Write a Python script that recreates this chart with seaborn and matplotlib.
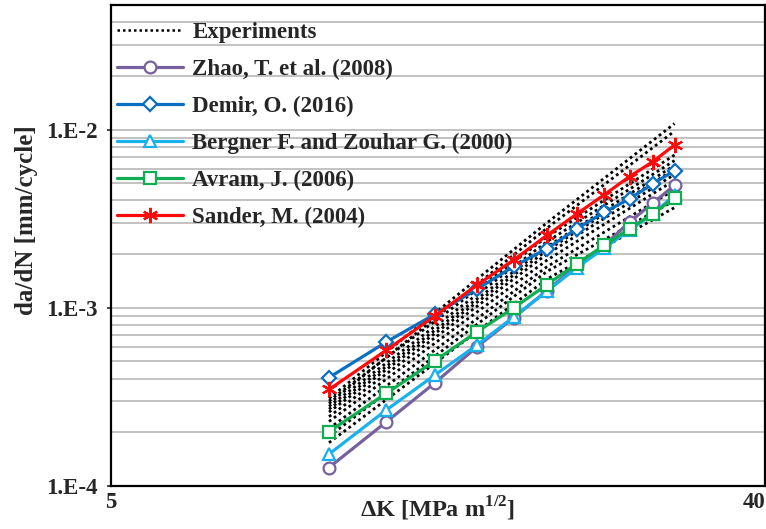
import numpy as np
import pandas as pd
import matplotlib
matplotlib.use("Agg")
import matplotlib.pyplot as plt
from matplotlib.lines import Line2D
import seaborn as sns

# Stress intensity factor ranges used by the models
delta_k = [10, 12, 14, 16, 18, 20, 22, 24, 26, 28, 30]

# Model predictions of crack growth rate (mm/cycle)
zhao = [1.27e-4, 2.29e-4, 3.79e-4, 6.03e-4, 8.8e-4, 1.25e-3, 1.73e-3, 2.24e-3, 3.03e-3, 3.87e-3, 4.86e-3]
demir = [4.06e-4, 6.43e-4, 9.2e-4, 1.27e-3, 1.71e-3, 2.15e-3, 2.78e-3, 3.44e-3, 4.09e-3, 4.96e-3, 5.89e-3]
bergner = [1.51e-4, 2.67e-4, 4.19e-4, 6.17e-4, 8.9e-4, 1.24e-3, 1.68e-3, 2.17e-3, 2.72e-3, 3.37e-3, 4.27e-3]
avram = [2.02e-4, 3.31e-4, 5.04e-4, 7.32e-4, 1.0e-3, 1.35e-3, 1.77e-3, 2.24e-3, 2.78e-3, 3.37e-3, 4.14e-3]
sander = [3.48e-4, 5.78e-4, 9.0e-4, 1.34e-3, 1.86e-3, 2.55e-3, 3.37e-3, 4.31e-3, 5.45e-3, 6.6e-3, 8.2e-3]

# Experimental test records (ΔK, da/dN) for each specimen
exp_dk = [10, 20, 30]
experiments = [
    [3.1e-4, 3.0e-3, 1.08e-2],
    [2.9e-4, 2.8e-3, 9.8e-3],
    [3.0e-4, 2.5e-3, 7.2e-3],
    [2.8e-4, 2.35e-3, 6.7e-3],
    [2.7e-4, 2.2e-3, 6.3e-3],
    [2.6e-4, 2.1e-3, 6.0e-3],
    [2.45e-4, 2.0e-3, 5.6e-3],
    [2.3e-4, 1.85e-3, 5.2e-3],
    [2.1e-4, 1.7e-3, 4.6e-3],
    [1.9e-4, 1.6e-3, 4.0e-3],
    [1.75e-4, 1.45e-3, 3.65e-3],
]

x_ticks = [5, 40]
y_ticks = [1e-4, 1e-3, 1e-2]
y_tick_labels = ["1.E-4", "1.E-3", "1.E-2"]

sns.set_theme(style="white")
plt.rcParams["font.family"] = ["Liberation Serif", "DejaVu Serif"]
plt.rcParams["font.weight"] = "bold"
plt.rcParams["mathtext.fontset"] = "custom"
plt.rcParams["mathtext.rm"] = "Liberation Serif:bold"
plt.rcParams["mathtext.bf"] = "Liberation Serif:bold"

fig = plt.figure(figsize=(7.66, 5.29), dpi=100)
ax = fig.add_axes([111 / 766, 1 - 486 / 529, 654 / 766, 481 / 529])
ax.set_xscale("log")
ax.set_yscale("log")

DOTS = (0, (1, 1.2))

exp_rows = []
for i, vals in enumerate(experiments):
    for k, v in zip(exp_dk, vals):
        exp_rows.append({"run": i, "dk": k, "rate": v})
exp_df = pd.DataFrame(exp_rows)

sns.lineplot(data=exp_df, x="dk", y="rate", units="run", estimator=None,
             color="black", lw=2.0, ax=ax, legend=False)
for line in ax.lines:
    line.set_linestyle(DOTS)

models = [
    ("Zhao, T. et al. (2008)", zhao, "#76609E", "o", 8.5),
    ("Demir, O. (2016)", demir, "#0A6FC2", "D", 7.5),
    ("Bergner F. and Zouhar G. (2000)", bergner, "#1AB0EC", "^", 8.5),
    ("Avram, J. (2006)", avram, "#11AD52", "s", 8.5),
    ("Sander, M. (2004)", sander, "#FF0A0A", (6, 2, 0), 11),
]
for name, vals, col, mk, ms in models:
    df = pd.DataFrame({"dk": delta_k, "rate": vals})
    sns.lineplot(data=df, x="dk", y="rate", color=col, lw=2.3, marker=mk,
                 markersize=ms, markerfacecolor="white", markeredgecolor=col,
                 markeredgewidth=1.6, ax=ax, legend=False)

ax.set_xlim(5, 40)
ax.set_ylim(1e-4, 5e-2)

ax.set_xticks(x_ticks)
ax.set_xticklabels([str(t) for t in x_ticks])
ax.xaxis.set_minor_locator(matplotlib.ticker.NullLocator())
ax.set_yticks(y_ticks)
ax.set_yticklabels(y_tick_labels)
ax.yaxis.set_minor_locator(matplotlib.ticker.LogLocator(base=10, subs=np.arange(2, 10)))
ax.yaxis.set_minor_formatter(matplotlib.ticker.NullFormatter())

ax.tick_params(axis="y", which="major", length=3, width=1.2, direction="out",
               pad=6.5, labelsize=16.5, left=True)
ax.tick_params(axis="y", which="minor", length=0)
ax.tick_params(axis="x", which="major", length=0, pad=4, labelsize=16.5)
for lab in ax.get_xticklabels() + ax.get_yticklabels():
    lab.set_fontweight("bold")
ax.get_xticklabels()[-1].set_horizontalalignment("right")

ax.grid(False)
ax.grid(True, axis="y", which="both", color="#BDBDBD", lw=1.3)
ax.set_axisbelow(True)
for sp in ax.spines.values():
    sp.set_color("black")
    sp.set_linewidth(1.6)

ax.set_xlabel(r"ΔK [MPa m$^{\mathbf{1/2}}$]", fontsize=17.5, fontweight="bold")
ax.set_ylabel("da/dN [mm/cycle]", fontsize=18, fontweight="bold")
ax.yaxis.set_label_coords(-0.112, 0.553)
ax.xaxis.set_label_coords(0.499, -0.019)

handles = [Line2D([], [], color="black", lw=1.8, linestyle=DOTS)]
for name, vals, col, mk, ms in models:
    handles.append(Line2D([], [], color=col, lw=2.3, marker=mk, markersize=ms,
                          markerfacecolor="white", markeredgecolor=col,
                          markeredgewidth=1.6))
labels = ["Experiments"] + [m[0] for m in models]
leg = ax.legend(handles, labels, loc="upper left", bbox_to_anchor=(0.0, 0.977),
                frameon=False, prop={"family": "Liberation Serif", "weight": "bold", "size": 16.5},
                handlelength=2.9, handletextpad=0.4, labelspacing=0.69,
                borderaxespad=0.1, borderpad=0.15)

fig.savefig("out.png", dpi=100)
